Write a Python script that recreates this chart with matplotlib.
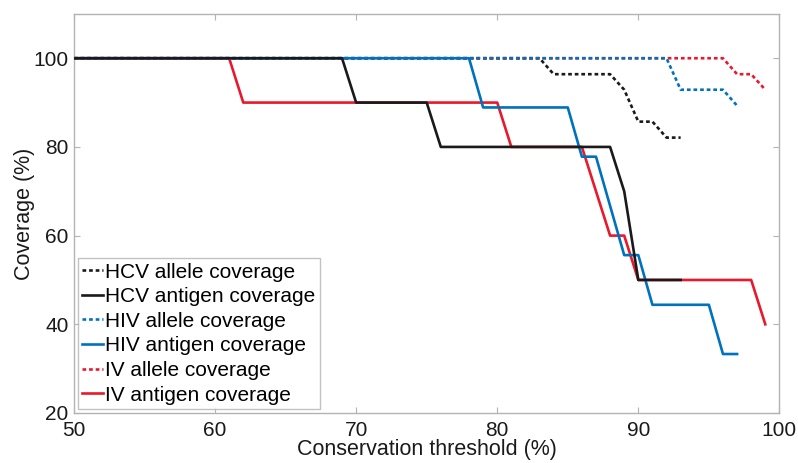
import matplotlib.pyplot as plt

plt.rcParams['font.family'] = ['Liberation Sans', 'DejaVu Sans']

# Breakpoints of each coverage curve (conservation threshold %, coverage %)
hcv_allele_x = [50, 83, 84, 88, 89, 90, 91, 92, 93]
hcv_allele_y = [100, 100, 96.4, 96.4, 92.9, 85.7, 85.7, 82.1, 82.1]

hcv_antigen_x = [50, 69, 70, 75, 76, 88, 89, 90, 93]
hcv_antigen_y = [100, 100, 90, 90, 80, 80, 70, 50, 50]

hiv_allele_x = [50, 92, 93, 96, 97]
hiv_allele_y = [100, 100, 92.9, 92.9, 89.3]

hiv_antigen_x = [50, 78, 79, 85, 86, 87, 88, 89, 90, 91, 95, 96, 97]
hiv_antigen_y = [100, 100, 88.9, 88.9, 77.8, 77.8, 66.7, 55.6, 55.6, 44.4, 44.4, 33.3, 33.3]

iv_allele_x = [50, 96, 97, 98, 99]
iv_allele_y = [100, 100, 96.4, 96.4, 92.9]

iv_antigen_x = [50, 61, 62, 80, 81, 86, 87, 88, 89, 90, 98, 99]
iv_antigen_y = [100, 100, 90, 90, 80, 80, 70, 60, 60, 50, 50, 40]

black = '#1a1a1a'
blue = '#0072bd'
red = '#e8192c'
dot = (0, (1.4, 1.1))
lw = 1.9

fig = plt.figure(figsize=(7.98, 4.63), dpi=100)
ax = fig.add_axes([0.0927, 0.108, 0.884, 0.862])

l1, = ax.plot(hcv_allele_x, hcv_allele_y, color=black, ls=dot, lw=lw, zorder=2,
              label='HCV allele coverage')
l5, = ax.plot(iv_allele_x, iv_allele_y, color=red, ls=dot, lw=lw, zorder=2.1,
              label='IV allele coverage')
l3, = ax.plot(hiv_allele_x, hiv_allele_y, color=blue, ls=dot, lw=lw, zorder=2.2,
              label='HIV allele coverage')
l6, = ax.plot(iv_antigen_x, iv_antigen_y, color=red, lw=lw, zorder=3,
              label='IV antigen coverage')
l4, = ax.plot(hiv_antigen_x, hiv_antigen_y, color=blue, lw=lw, zorder=3.1,
              label='HIV antigen coverage')
l2, = ax.plot(hcv_antigen_x, hcv_antigen_y, color=black, lw=lw, zorder=3.2,
              label='HCV antigen coverage')

ax.set_xlim(50, 100)
ax.set_ylim(20, 110)
ax.set_xticks([50, 60, 70, 80, 90, 100])
ax.set_yticks([20, 40, 60, 80, 100])

for s in ax.spines.values():
    s.set_color('#b3b3b3')
    s.set_linewidth(1.0)
ax.tick_params(direction='in', length=4, width=0.8, color='#b3b3b3',
               labelsize=15, labelcolor='#1a1a1a', top=True, right=True)
ax.tick_params(axis='x', pad=6)
ax.tick_params(axis='y', pad=4)

ax.set_xlabel('Conservation threshold (%)', fontsize=15.5, color='#1a1a1a', labelpad=-1)
ax.set_ylabel('Coverage (%)', fontsize=15.5, color='#1a1a1a', labelpad=-1)

leg = ax.legend(handles=[l1, l2, l3, l4, l5, l6], loc='lower left', fontsize=15,
                frameon=True, fancybox=False, edgecolor='#b3b3b3',
                handlelength=1.0, handletextpad=0.1, labelspacing=0.27,
                borderpad=0.2, borderaxespad=0.2)
leg.get_frame().set_linewidth(1.0)

fig.savefig('out.png', dpi=100)
